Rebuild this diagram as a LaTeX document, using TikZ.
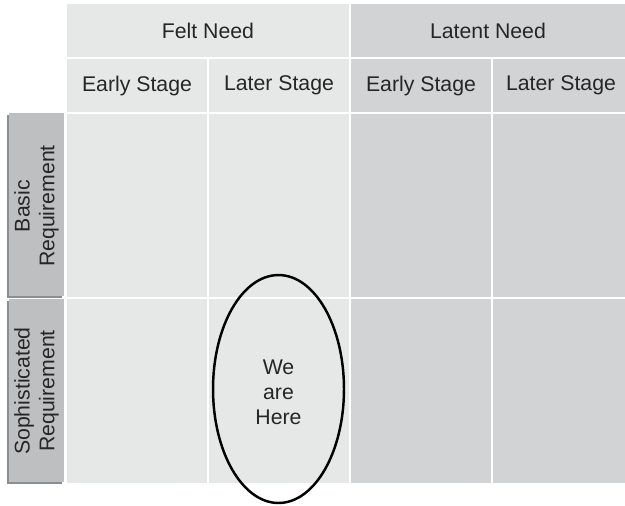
\documentclass[tikz,border=0pt]{standalone}
\usepackage{fontspec}
\setmainfont{Liberation Sans}
\usepackage{tikz}
\usetikzlibrary{positioning,shapes.geometric}
\definecolor{feltgray}{HTML}{E6E7E7}
\definecolor{latentgray}{HTML}{D2D3D5}
\definecolor{labelgray}{HTML}{BEBFC1}
\definecolor{shadowgray}{HTML}{8C8D8F}

\tikzset{
  txt/.style={font=\fontsize{12.1}{14.2}\selectfont, text=black!85, align=center, inner sep=0pt},
  sidelabel/.style={txt, rotate=90}
}

\begin{document}
\begin{tikzpicture}[x=0.02cm, y=-0.02cm]
        \useasboundingbox (0,0) rectangle (625,505);
        % header rows
        \fill[feltgray] (67,4) rectangle (349,57);
        \fill[latentgray] (351,4) rectangle (625,57);
        \fill[feltgray] (67,59) rectangle (207,112);
        \fill[feltgray] (209,59) rectangle (349,112);
        \fill[latentgray] (351,59) rectangle (491,112);
        \fill[latentgray] (493,59) rectangle (625,112);
        \node[txt] (felt) at (208,30.5) {Felt Need};
        \node[txt] (latent) at (488,30.5) {Latent Need};
        \node[txt] (feltearly) at (137,85.5) {Early Stage};
        \node[txt] (feltlater) at (279,85.5) {Later Stage};
        \node[txt] (latentearly) at (421,85.5) {Early Stage};
        \node[txt] (latentlater) at (561,85.5) {Later Stage};
        % body cells
        \foreach \y/\yy in {114/297, 299/483} {
          \fill[feltgray] (67,\y) rectangle (207,\yy);
          \fill[feltgray] (209,\y) rectangle (349,\yy);
          \fill[latentgray] (351,\y) rectangle (491,\yy);
          \fill[latentgray] (493,\y) rectangle (625,\yy);
        }
        % row labels with a small shadow
        \fill[shadowgray] (7,115) rectangle (62,298);
        \fill[labelgray] (9,113) rectangle (64,296);
        \fill[shadowgray] (7,301) rectangle (62,484);
        \fill[labelgray] (9,299) rectangle (64,482);
        \node[sidelabel] (basic) at (36.5,206) {Basic\\Requirement};
        \node[sidelabel] (soph) at (36.5,391) {Sophisticated\\Requirement};
        % marker
        \node[draw, ellipse, line width=1.4pt, minimum width=2.62cm, minimum height=4.56cm,
              inner sep=0pt] (here) at (278.5,389) {};
        \node[txt] (heretext) at (278.5,392) {We\\are\\Here};
      \end{tikzpicture}
\end{document}
